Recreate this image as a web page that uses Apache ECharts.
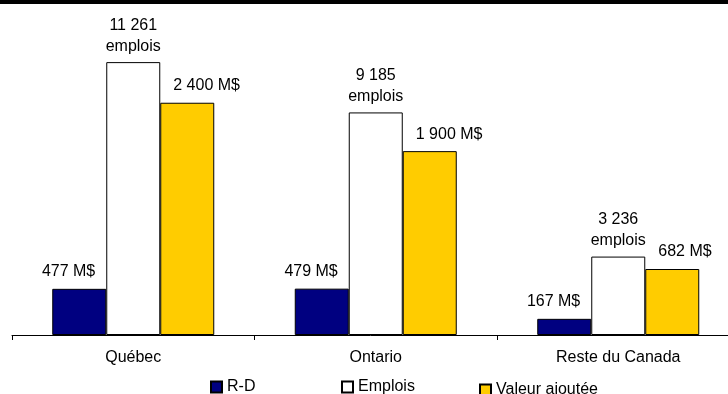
<!DOCTYPE html>
<html><head><meta charset="utf-8">
<script src="https://cdn.jsdelivr.net/npm/echarts@6/dist/echarts.min.js"></script>
<style>html,body{margin:0;padding:0;background:#fff}#c{width:728px;height:394px}</style>
</head><body><div id="c"></div>
<script>
const categories = ['Québec', 'Ontario', 'Reste du Canada'];
const seriesNames = ['R-D', 'Emplois', 'Valeur ajoutée'];
const rdValues = [477, 479, 167];          // M$
const emploisValues = [11261, 9185, 3236]; // emplois
const valeurValues = [2400, 1900, 682];    // M$

function fmt(n) { return String(n).replace(/\B(?=(\d{3})+(?!\d))/g, ' '); }
const FONT = '"Liberation Sans", Arial, sans-serif';

const chart = echarts.init(document.getElementById('c'), null, { renderer: 'canvas' });
const labelBase = { show: true, position: 'top', fontSize: 16, color: '#000', fontFamily: FONT };
const legendBase = {
  icon: 'rect', itemWidth: 11, itemHeight: 11, itemGap: 0, padding: 0,
  textStyle: { fontSize: 16, color: '#000', fontFamily: FONT }
};
chart.setOption({
  animation: false,
  backgroundColor: '#fff',
  graphic: [{ type: 'rect', shape: { x: 0, y: 0, width: 728, height: 4 }, style: { fill: '#000' } }],
  grid: { left: 12, top: 35, bottom: 59, right: -11.5, containLabel: false, outerBoundsMode: 'none' },
  legend: [
    Object.assign({ data: [seriesNames[0]], left: 210, top: 379 }, legendBase),
    Object.assign({ data: [seriesNames[1]], left: 341, top: 379 }, legendBase),
    Object.assign({ data: [seriesNames[2]], left: 479, top: 382 }, legendBase)
  ],
  xAxis: {
    type: 'category', data: categories,
    axisLine: { lineStyle: { color: '#000', width: 1 } },
    axisTick: { show: true, length: 5, lineStyle: { color: '#000' } },
    axisLabel: { fontSize: 16, color: '#000', fontFamily: FONT, margin: 15 }
  },
  yAxis: [
    { type: 'value', min: 0, max: 3100, show: false },
    { type: 'value', min: 0, max: 12380, show: false }
  ],
  series: [
    {
      name: seriesNames[0], type: 'bar', yAxisIndex: 0, data: rdValues, barWidth: 54, barGap: '0%',
      itemStyle: { color: '#000080', borderColor: '#000', borderWidth: 1 },
      label: Object.assign({}, labelBase, { distance: 9, align: 'right', offset: [16, 0], formatter: p => fmt(p.value) + ' M$' })
    },
    {
      name: seriesNames[1], type: 'bar', yAxisIndex: 1, data: emploisValues, barWidth: 54, barGap: '0%',
      itemStyle: { color: '#ffffff', borderColor: '#000', borderWidth: 1 },
      label: Object.assign({}, labelBase, { distance: 5, lineHeight: 21, formatter: p => fmt(p.value) + '\nemplois' })
    },
    {
      name: seriesNames[2], type: 'bar', yAxisIndex: 0, data: valeurValues, barWidth: 54, barGap: '0%',
      itemStyle: { color: '#ffcc00', borderColor: '#000', borderWidth: 1 },
      label: Object.assign({}, labelBase, { distance: 9, align: 'left', offset: [-14, 0], formatter: p => fmt(p.value) + ' M$' })
    }
  ]
});
</script></body></html>
